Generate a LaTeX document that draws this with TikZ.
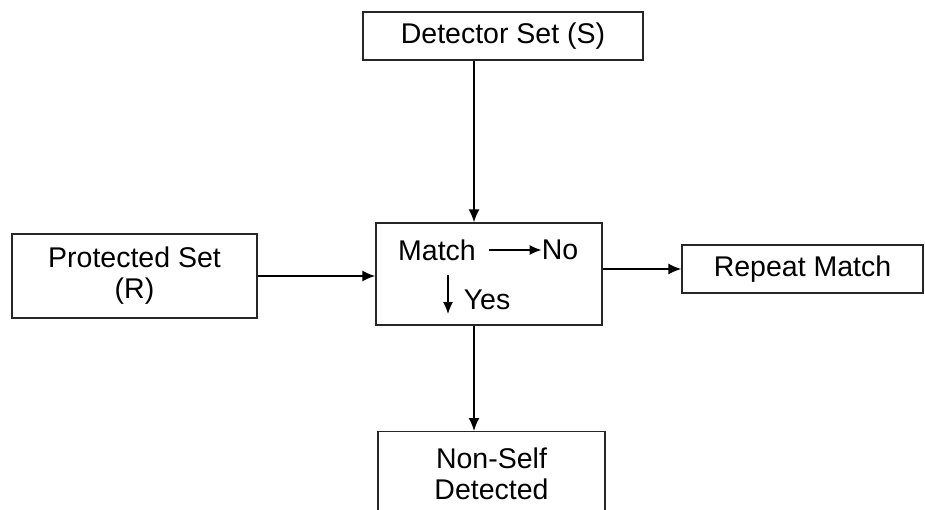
\documentclass[tikz,border=0pt]{standalone}
\usepackage{fontspec}
\setmainfont{Liberation Sans}
\usetikzlibrary{arrows.meta}
\usetikzlibrary{positioning}
\tikzstyle{block}=[draw=black!85,line width=1.2pt,fill=white,align=center,inner sep=0pt,font=\fontsize{28.5}{31}\selectfont]
\tikzstyle{word}=[inner sep=0pt,font=\fontsize{28.5}{31}\selectfont]
\tikzstyle{flow}=[draw,line width=1.8pt,-{Latex[length=13pt,width=11pt]}]
\tikzstyle{smallflow}=[draw,line width=1.5pt,-{Latex[length=12pt,width=10pt]}]

\begin{document}
\begin{tikzpicture}[x=1pt,y=-1pt]
    % page frame
    \useasboundingbox (0,0) rectangle (925,510);
    \clip (0,0) rectangle (925,510);

    % the boxes
    \node[block,minimum width=280pt,minimum height=48pt] (det) at (503,36) {Detector Set (S)};
    \node[block,minimum width=245pt,minimum height=84pt] (prot) at (134.5,276) {Protected Set\\(R)};
    \node[block,minimum width=226pt,minimum height=102pt] (mid) at (489,274) {};
    \node[block,minimum width=241pt,minimum height=48pt] (rep) at (802.5,269) {Repeat Match};
    \node[block,minimum width=227pt,minimum height=130pt,anchor=north,text depth=46pt] (nonself) at (491.5,431) {Non-Self\\Detected};

    % inside the matching box
    \node[word] (match) at (437,250) {Match};
    \node[word] (no) at (560,250) {No};
    \node[word] (yes) at (487,300) {Yes};
    \coordinate (ytop) at (448,275);
    \coordinate (ybot) at (448,314);
    \coordinate (spine) at (474,0);

    % connectors
    \path[smallflow] ([xshift=13pt]match.east) -- (no.west);
    \path[smallflow] (ytop) -- (ybot);
    \path[flow] (det.south -| spine) -- (mid.north -| spine);
    \path[flow] (prot.east) -- (prot.east -| mid.west);
    \path[flow] (mid.east |- rep.west) -- (rep.west);
    \path[flow] (mid.south -| spine) -- (nonself.north -| spine);
\end{tikzpicture}
\end{document}
